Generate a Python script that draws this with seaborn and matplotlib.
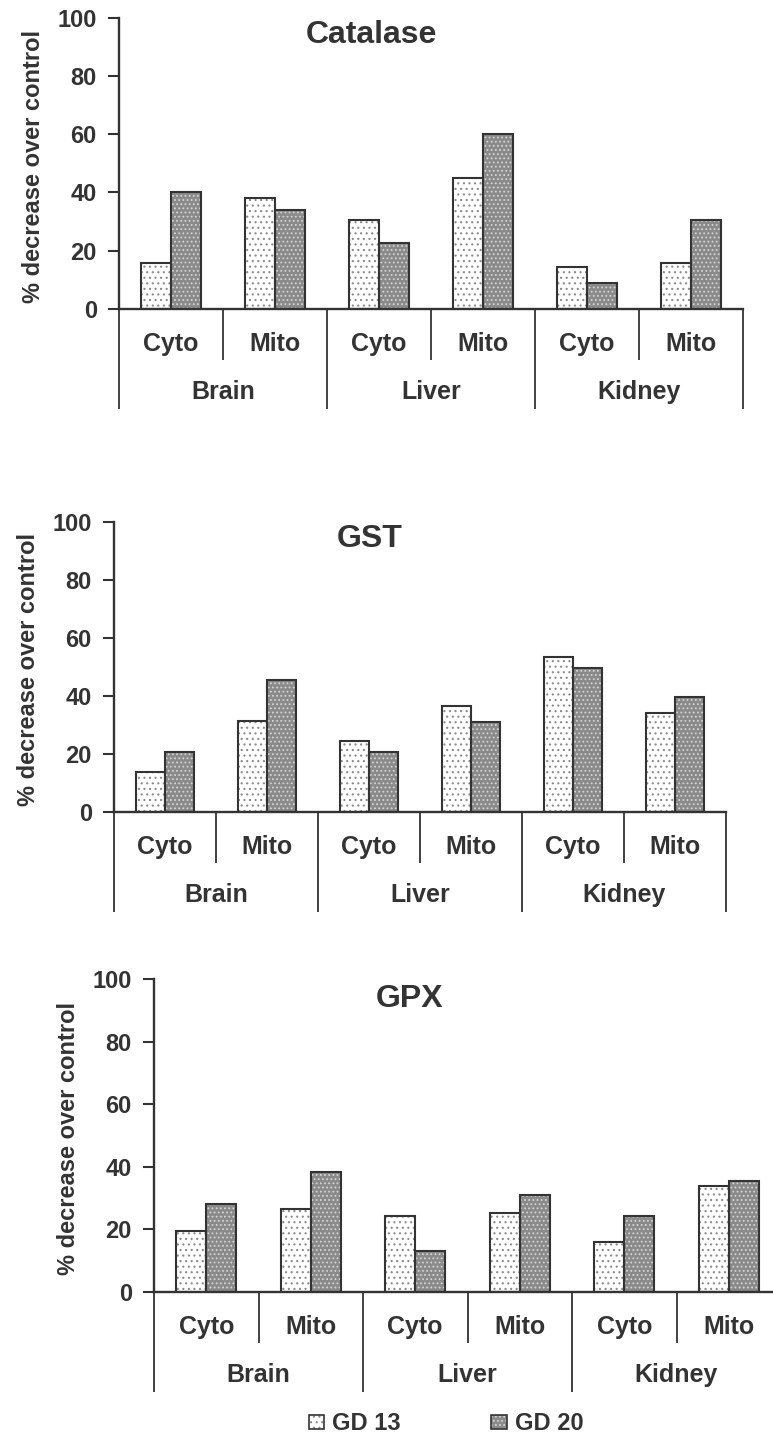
import matplotlib
matplotlib.use("Agg")
import matplotlib.pyplot as plt
from matplotlib.patches import Patch
from matplotlib.legend_handler import HandlerTuple
import pandas as pd
import seaborn as sns

# ---- data -------------------------------------------------------------
organs = ["Brain", "Liver", "Kidney"]
fractions = ["Cyto", "Mito"]
stages = ["GD 13", "GD 20"]
enzymes = ["Catalase", "GST", "GPX"]

# % decrease over control, ordered Brain Cyto, Brain Mito, Liver Cyto, ...
catalase_gd13 = [15.8, 38.1, 30.6, 44.9, 14.5, 15.8]
catalase_gd20 = [40.0, 33.8, 22.6, 60.0, 9.0, 30.6]
gst_gd13 = [13.8, 31.4, 24.5, 36.4, 53.3, 33.9]
gst_gd20 = [20.7, 45.3, 20.7, 30.8, 49.7, 39.5]
gpx_gd13 = [19.4, 26.4, 24.1, 25.1, 16.0, 33.7]
gpx_gd20 = [28.1, 38.3, 13.1, 30.8, 24.1, 35.5]
yticks = [0, 20, 40, 60, 80, 100]

# ---- style ------------------------------------------------------------
sns.set_style("white")
plt.rcParams["font.family"] = ["Liberation Sans", "DejaVu Sans"]
plt.rcParams["font.weight"] = "bold"
plt.rcParams["hatch.linewidth"] = 0.8

INK = "#333333"
EDGE = "#333333"
FACES = ["#ffffff", "#8a8a8a"]
HATCHES = ["...", "...."]
HATCH_COLORS = ["#8a8a8a", "#d4d4d4"]

W, H = 773, 1436
fig = plt.figure(figsize=(W / 100, H / 100), dpi=100)

# pixel geometry of each panel: left, right, row of 0, row of 100,
# title x (axes fraction), title baseline below the top (px)
panels = [
    dict(left=119, right=743, y0=308.7, y100=18.0, tx=0.404, tb=25.3),
    dict(left=114, right=726, y0=811.7, y100=521.7, tx=0.418, tb=25.0),
    dict(left=154, right=781, y0=1291.7, y100=979.0, tx=0.407, tb=27.7),
]
values = [(catalase_gd13, catalase_gd20), (gst_gd13, gst_gd20), (gpx_gd13, gpx_gd20)]

order = [f"{o} {f}" for o in organs for f in fractions]


def draw_panel(geom, name, gd13, gd20):
    w_px = geom["right"] - geom["left"]
    h_px = geom["y0"] - geom["y100"]
    ax = fig.add_axes([geom["left"] / W, 1 - geom["y0"] / H, w_px / W, h_px / H])

    df = pd.DataFrame({
        "group": order * 2,
        "stage": [stages[0]] * len(order) + [stages[1]] * len(order),
        "value": list(gd13) + list(gd20),
    })

    # stippled fills
    sns.barplot(data=df, x="group", y="value", hue="stage", order=order,
                hue_order=stages, palette=FACES, width=0.57, gap=0,
                errorbar=None, linewidth=0, legend=False, ax=ax)
    for container, hatch, hcol in zip(ax.containers, HATCHES, HATCH_COLORS):
        for bar in container:
            bar.set_hatch(hatch)
            bar.set_edgecolor(hcol)
            bar.set_linewidth(0)

    # dark outlines on top
    sns.barplot(data=df, x="group", y="value", hue="stage", order=order,
                hue_order=stages, palette=[EDGE, EDGE], width=0.57, gap=0,
                errorbar=None, fill=False, linewidth=1.5, legend=False, ax=ax)

    ax.set_xlim(-0.5, len(order) - 0.5)
    ax.set_ylim(0, 100)
    ax.set_yticks(yticks)
    ax.tick_params(axis="y", labelsize=17, colors=INK, length=8, width=1.5,
                   pad=8.0, direction="out", left=True)
    for lab in ax.get_yticklabels():
        lab.set_fontweight("bold")
    ax.tick_params(axis="x", bottom=False, labelbottom=False)
    ax.set_xlabel("")
    for side in ("top", "right"):
        ax.spines[side].set_visible(False)
    for side in ("left", "bottom"):
        ax.spines[side].set_color(INK)
        ax.spines[side].set_linewidth(1.7)

    ax.set_ylabel("% decrease over control", fontsize=17, fontweight="bold",
                  color=INK)
    ax.yaxis.set_label_coords(-74 / w_px, 0.49)

    # two-level category axis
    xt = ax.get_xaxis_transform()
    for i in range(len(order) + 1):
        x = i - 0.5
        depth = 100 if i % 2 == 0 else 51
        ax.plot([x, x], [0, -depth / h_px], transform=xt, color=INK,
                lw=1.3, clip_on=False, solid_capstyle="butt")
    for i, label in enumerate(order):
        ax.text(i, -42 / h_px, label.split(" ")[1], transform=xt,
                ha="center", va="baseline", fontsize=18, fontweight="bold",
                color=INK)
    for k, organ in enumerate(organs):
        ax.text(2 * k + 0.5, -90 / h_px, organ, transform=xt, ha="center",
                va="baseline", fontsize=18, fontweight="bold", color=INK)

    ax.text(geom["tx"], 1 - geom["tb"] / h_px, name, transform=ax.transAxes,
            ha="center", va="baseline", fontsize=23, fontweight="bold",
            color=INK)
    return ax


for geom, name, (a, b) in zip(panels, enzymes, values):
    draw_panel(geom, name, a, b)

handles = []
for face, hatch, hcol in zip(FACES, HATCHES, HATCH_COLORS):
    fill = Patch(facecolor=face, hatch=hatch, edgecolor=hcol, linewidth=0)
    outline = Patch(facecolor="none", edgecolor=EDGE, linewidth=1.2)
    handles.append((fill, outline))

fig.legend(handles, stages, loc="center", bbox_to_anchor=(446 / W, 1 - 1424 / H),
           ncol=2, frameon=False, prop=dict(size=17, weight="bold"),
           labelcolor=INK, handlelength=0.64, handleheight=0.5,
           handletextpad=0.34, columnspacing=3.85, borderpad=0,
           borderaxespad=0, handler_map={tuple: HandlerTuple(ndivide=1, pad=0)})

fig.savefig("out.png", dpi=100)
